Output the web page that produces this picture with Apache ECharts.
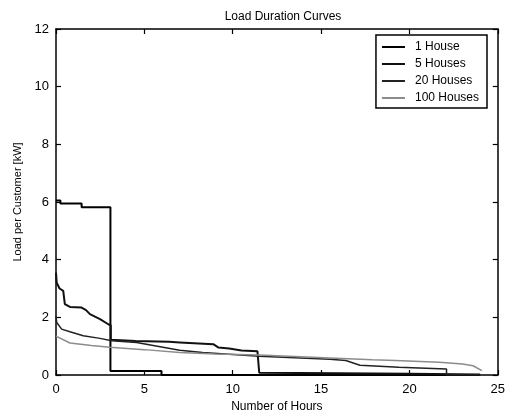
<!DOCTYPE html>
<html>
<head>
<meta charset="utf-8">
<script src="https://cdn.jsdelivr.net/npm/echarts@6/dist/echarts.min.js"></script>
<style>
  html, body { margin: 0; padding: 0; background: #fff; }
  #chart { width: 508px; height: 418px; }
</style>
</head>
<body>
<div id="chart"></div>
<script>
// values
const xTicks = [0, 5, 10, 15, 20, 25];
const yTicks = [0, 2, 4, 6, 8, 10, 12];

const house1Hours = [0, 0.25, 0.25, 1.45, 1.45, 3.08, 3.08, 5.97, 5.97, 24];
const house1Load  = [6.05, 6.05, 5.95, 5.95, 5.82, 5.82, 0.14, 0.14, 0, 0];

const house5Hours = [0, 0.04, 0.2, 0.41, 0.5, 0.79, 1.45, 1.7, 1.92, 2.49, 2.96, 3.1, 3.1, 4.5, 6.4, 7.0, 8.9, 9.2, 9.8, 10.5, 11.4, 11.5, 11.5, 16, 20, 24];
const house5Load  = [3.55, 3.2, 3.0, 2.92, 2.46, 2.36, 2.34, 2.25, 2.11, 1.94, 1.76, 1.72, 1.22, 1.18, 1.15, 1.13, 1.07, 0.95, 0.92, 0.85, 0.82, 0.8, 0.08, 0.06, 0.04, 0.02];

const house20Hours = [0, 0.04, 0.32, 0.79, 1.54, 2.49, 3.15, 4.56, 7.0, 8.3, 11.5, 13.5, 15.5, 16.4, 17.2, 19.4, 22.1, 22.1, 24];
const house20Load  = [2.05, 1.82, 1.59, 1.5, 1.36, 1.27, 1.19, 1.13, 0.86, 0.78, 0.65, 0.6, 0.55, 0.5, 0.34, 0.27, 0.21, 0, 0];

const house100Hours = [0, 0.79, 2, 3.05, 5, 7, 9, 11.5, 13.5, 15.5, 17.9, 19.2, 21.7, 23, 23.6, 24.1];
const house100Load  = [1.35, 1.11, 1.02, 0.96, 0.88, 0.78, 0.73, 0.69, 0.64, 0.59, 0.53, 0.5, 0.44, 0.38, 0.32, 0.15];

const pairs = (xs, ys) => xs.map((x, i) => [x, ys[i]]);

const font = 'Arial, "Liberation Sans", sans-serif';
const chart = echarts.init(document.getElementById('chart'), null, { renderer: 'canvas' });

const line = (name, xs, ys, color, width) => ({
  name: name,
  type: 'line',
  data: pairs(xs, ys),
  symbol: 'none',
  silent: true,
  xAxisIndex: 0,
  yAxisIndex: 0,
  lineStyle: { color: color, width: width },
  itemStyle: { color: color }
});

const axisLine = { show: true, onZero: false, lineStyle: { color: '#000', width: 1.5 } };
const axisTick = { show: true, inside: true, length: 5, lineStyle: { color: '#000', width: 1.2 } };

chart.setOption({
  animation: false,
  title: {
    text: 'Load Duration Curves',
    left: 278, top: 6,
    textAlign: 'center',
    textStyle: { fontFamily: font, fontSize: 12, fontWeight: 'normal', color: '#000' }
  },
  legend: {
    orient: 'vertical',
    right: 21, top: 35,
    itemWidth: 23, itemHeight: 2,
    itemGap: 5,
    icon: 'rect',
    padding: [6, 8, 4, 6],
    borderColor: '#000', borderWidth: 1.5,
    backgroundColor: '#fff',
    textStyle: { fontFamily: font, fontSize: 12, color: '#000', padding: [0, 0, 0, 5] },
    data: ['1 House', '5 Houses', '20 Houses', '100 Houses']
  },
  grid: { left: 56, right: 8, top: 29, bottom: 42 },
  xAxis: [
    {
      type: 'value', min: 0, max: 25, interval: 5,
      name: 'Number of Hours', nameLocation: 'middle', nameGap: 26,
      nameTextStyle: { fontFamily: font, fontSize: 12, color: '#000' },
      axisLine: axisLine, axisTick: axisTick, splitLine: { show: false },
      axisLabel: { fontFamily: font, fontSize: 13, color: '#000', margin: 8 }
    },
    {
      type: 'value', min: 0, max: 25, interval: 5, position: 'top',
      axisLine: axisLine, axisTick: axisTick, splitLine: { show: false },
      axisLabel: { show: false }
    }
  ],
  yAxis: [
    {
      type: 'value', min: 0, max: 12, interval: 2,
      name: 'Load per Customer [kW]', nameLocation: 'middle', nameGap: 32,
      nameTextStyle: { fontFamily: font, fontSize: 11, color: '#000' },
      axisLine: axisLine, axisTick: axisTick, splitLine: { show: false },
      axisLabel: { fontFamily: font, fontSize: 13, color: '#000', margin: 7 }
    },
    {
      type: 'value', min: 0, max: 12, interval: 2, position: 'right',
      axisLine: axisLine, axisTick: axisTick, splitLine: { show: false },
      axisLabel: { show: false }
    }
  ],
  series: [
    line('1 House', house1Hours, house1Load, '#000', 2),
    line('5 Houses', house5Hours, house5Load, '#111', 2),
    line('20 Houses', house20Hours, house20Load, '#222', 1.5),
    line('100 Houses', house100Hours, house100Load, '#8c8c8c', 1.5)
  ]
});
</script>
</body>
</html>
